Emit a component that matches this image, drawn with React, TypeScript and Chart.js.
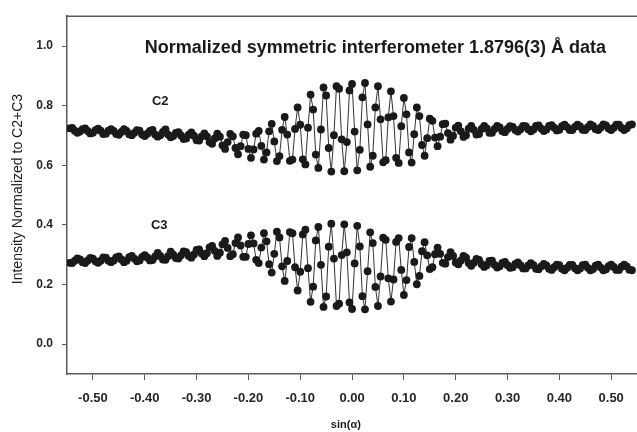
import { useEffect, useRef } from "react";
import { Chart, registerables } from "chart.js";

Chart.register(...registerables);

// Sampling grid along sin(α)
const SIN_START = -0.545;
const SIN_STEP = 0.005;

// Normalized intensity of the C2 detector
const C2 = [
  0.724, 0.725, 0.716, 0.709, 0.713, 0.721, 0.724, 0.715, 0.707, 0.709, 0.718, 0.723,
  0.716, 0.705, 0.706, 0.716, 0.721, 0.715, 0.705, 0.702, 0.712, 0.721, 0.715, 0.704,
  0.701, 0.709, 0.718, 0.716, 0.703, 0.698, 0.706, 0.715, 0.719, 0.703, 0.696, 0.701,
  0.712, 0.720, 0.703, 0.694, 0.698, 0.709, 0.711, 0.700, 0.688, 0.690, 0.703, 0.710,
  0.699, 0.684, 0.683, 0.697, 0.707, 0.697, 0.678, 0.672, 0.690, 0.706, 0.696, 0.667,
  0.655, 0.678, 0.705, 0.697, 0.658, 0.637, 0.664, 0.703, 0.701, 0.655, 0.625, 0.653,
  0.706, 0.715, 0.665, 0.619, 0.643, 0.714, 0.739, 0.680, 0.614, 0.631, 0.719, 0.762,
  0.703, 0.615, 0.619, 0.722, 0.794, 0.736, 0.620, 0.603, 0.726, 0.837, 0.787, 0.636,
  0.591, 0.720, 0.861, 0.834, 0.658, 0.579, 0.701, 0.865, 0.857, 0.687, 0.580, 0.678,
  0.851, 0.873, 0.713, 0.583, 0.652, 0.828, 0.876, 0.737, 0.595, 0.632, 0.794, 0.865,
  0.754, 0.610, 0.617, 0.761, 0.848, 0.765, 0.625, 0.608, 0.731, 0.826, 0.771, 0.643,
  0.609, 0.704, 0.794, 0.765, 0.668, 0.632, 0.691, 0.756, 0.749, 0.693, 0.664, 0.696,
  0.738, 0.740, 0.708, 0.686, 0.699, 0.726, 0.733, 0.714, 0.695, 0.701, 0.723, 0.732,
  0.719, 0.703, 0.705, 0.722, 0.732, 0.724, 0.709, 0.709, 0.722, 0.732, 0.727, 0.714,
  0.711, 0.722, 0.731, 0.729, 0.718, 0.713, 0.721, 0.732, 0.731, 0.721, 0.714, 0.720,
  0.732, 0.734, 0.723, 0.715, 0.720, 0.732, 0.735, 0.726, 0.717, 0.719, 0.731, 0.736,
  0.728, 0.718, 0.718, 0.729, 0.736, 0.730, 0.719, 0.718, 0.728, 0.737, 0.732, 0.721,
  0.718, 0.727, 0.737, 0.734, 0.723, 0.718, 0.726, 0.736, 0.736, 0.725, 0.718, 0.724,
  0.735, 0.737,
];

// Normalized intensity of the C3 detector
const C3 = [
  0.273, 0.272, 0.280, 0.288, 0.284, 0.275, 0.272, 0.281, 0.289, 0.287, 0.278, 0.273,
  0.280, 0.291, 0.290, 0.280, 0.275, 0.281, 0.291, 0.294, 0.284, 0.275, 0.280, 0.292,
  0.296, 0.287, 0.278, 0.281, 0.293, 0.299, 0.291, 0.281, 0.282, 0.294, 0.306, 0.296,
  0.284, 0.283, 0.295, 0.310, 0.300, 0.289, 0.287, 0.298, 0.311, 0.309, 0.296, 0.290,
  0.301, 0.316, 0.318, 0.304, 0.295, 0.305, 0.325, 0.330, 0.313, 0.296, 0.307, 0.335,
  0.346, 0.323, 0.295, 0.302, 0.339, 0.358, 0.331, 0.293, 0.293, 0.336, 0.365, 0.338,
  0.283, 0.272, 0.324, 0.372, 0.345, 0.268, 0.240, 0.303, 0.377, 0.358, 0.261, 0.212,
  0.279, 0.376, 0.372, 0.258, 0.180, 0.243, 0.368, 0.384, 0.255, 0.142, 0.193, 0.348,
  0.393, 0.266, 0.125, 0.160, 0.327, 0.404, 0.287, 0.128, 0.136, 0.299, 0.402, 0.308,
  0.140, 0.118, 0.271, 0.397, 0.328, 0.161, 0.117, 0.245, 0.375, 0.339, 0.192, 0.128,
  0.227, 0.357, 0.350, 0.221, 0.143, 0.217, 0.343, 0.356, 0.249, 0.165, 0.215, 0.326,
  0.356, 0.276, 0.201, 0.229, 0.312, 0.342, 0.298, 0.252, 0.258, 0.302, 0.324, 0.303,
  0.273, 0.270, 0.292, 0.309, 0.296, 0.274, 0.268, 0.281, 0.296, 0.290, 0.272, 0.263,
  0.273, 0.286, 0.283, 0.268, 0.259, 0.265, 0.279, 0.280, 0.266, 0.257, 0.261, 0.273,
  0.276, 0.265, 0.256, 0.258, 0.269, 0.274, 0.265, 0.254, 0.254, 0.264, 0.272, 0.265,
  0.253, 0.251, 0.261, 0.269, 0.264, 0.253, 0.249, 0.258, 0.267, 0.265, 0.253, 0.248,
  0.256, 0.266, 0.266, 0.255, 0.248, 0.254, 0.265, 0.267, 0.256, 0.248, 0.252, 0.263,
  0.267, 0.257, 0.248, 0.251, 0.262, 0.267, 0.259, 0.249, 0.249, 0.260, 0.267, 0.261,
  0.250, 0.248,
];

const X_TICKS = [-0.5, -0.4, -0.3, -0.2, -0.1, 0, 0.1, 0.2, 0.3, 0.4, 0.5];
const Y_TICKS = [0, 0.2, 0.4, 0.6, 0.8, 1.0];

const TITLE = "Normalized symmetric interferometer 1.8796(3) Å data";
const X_TITLE = "sin(α)";
const Y_TITLE = "Intensity Normalized to C2+C3";
const SERIES_LABELS = ["C2", "C3"];

const FONT = "'Liberation Sans', Arial, Helvetica, sans-serif";
const INK = "#1a1a1a";
const AXIS = "#5a5a5a";

const toPoints = (ys: number[]) =>
  ys.map((y, i) => ({ x: +(SIN_START + i * SIN_STEP).toFixed(3), y }));

// Text drawn inside and around the plot frame
const labelsPlugin = {
  id: "frameText",
  afterDraw(chart: any) {
    const { ctx, chartArea, scales } = chart;
    const xs = scales.x;
    const ys = scales.y;
    ctx.save();

    // top frame line
    ctx.strokeStyle = AXIS;
    ctx.lineWidth = 1.5;
    ctx.beginPath();
    ctx.moveTo(chartArea.left, chartArea.top);
    ctx.lineTo(chart.width, chartArea.top);
    ctx.stroke();

    ctx.fillStyle = INK;

    // heading inside the plot
    ctx.font = `bold 18px ${FONT}`;
    ctx.textAlign = "center";
    ctx.textBaseline = "alphabetic";
    ctx.fillText(TITLE, xs.getPixelForValue(0.045), ys.getPixelForValue(0.975));

    // series names
    ctx.font = `bold 13px ${FONT}`;
    ctx.textBaseline = "middle";
    ctx.fillText(SERIES_LABELS[0], xs.getPixelForValue(-0.37), ys.getPixelForValue(0.813));
    ctx.fillText(SERIES_LABELS[1], xs.getPixelForValue(-0.372), ys.getPixelForValue(0.398));

    // x axis title
    ctx.font = `bold 11px ${FONT}`;
    ctx.fillText(X_TITLE, xs.getPixelForValue(-0.012), 425);

    // y axis title
    ctx.font = `14px ${FONT}`;
    ctx.translate(18, (chartArea.top + chartArea.bottom) / 2 - 6);
    ctx.rotate(-Math.PI / 2);
    ctx.fillText(Y_TITLE, 0, 0);

    ctx.restore();
  },
};

export default function App() {
  const canvasRef = useRef<HTMLCanvasElement | null>(null);

  useEffect(() => {
    const canvas = canvasRef.current;
    if (!canvas) return;

    const seriesStyle = {
      borderColor: "#333",
      borderWidth: 1,
      pointRadius: 3.9,
      pointBorderWidth: 0,
      pointBackgroundColor: INK,
      pointHoverRadius: 3.9,
      tension: 0,
      fill: false,
    };

    const chart = new Chart(canvas, {
      type: "line",
      data: {
        datasets: [
          { label: SERIES_LABELS[0], data: toPoints(C2), ...seriesStyle },
          { label: SERIES_LABELS[1], data: toPoints(C3), ...seriesStyle },
        ],
      },
      options: {
        responsive: false,
        animation: false,
        events: [],
        layout: { padding: { top: 13, left: 0, right: 0, bottom: 0 } },
        plugins: {
          legend: { display: false },
          tooltip: { enabled: false },
          title: { display: false },
        },
        scales: {
          x: {
            type: "linear",
            min: -0.55,
            max: 0.55,
            afterBuildTicks: (s: any) => {
              s.ticks = X_TICKS.map((v) => ({ value: v }));
            },
            afterFit: (s: any) => {
              s.height = 58;
            },
            ticks: {
              autoSkip: false,
              maxRotation: 0,
              padding: 11,
              color: "#262626",
              font: { family: FONT, size: 13, weight: "bold" },
              callback: (v: any) => Number(v).toFixed(2),
            },
            grid: {
              display: true,
              drawOnChartArea: false,
              drawTicks: true,
              tickLength: 6,
              color: AXIS,
              lineWidth: 1,
            },
            border: { display: true, color: AXIS, width: 1.5 },
          },
          y: {
            type: "linear",
            min: -0.1,
            max: 1.1,
            afterBuildTicks: (s: any) => {
              s.ticks = Y_TICKS.map((v) => ({ value: v }));
            },
            afterFit: (s: any) => {
              s.width = 67;
            },
            ticks: {
              padding: 9,
              color: "#262626",
              font: { family: FONT, size: 12, weight: "bold" },
              callback: (v: any) => Number(v).toFixed(1),
            },
            grid: {
              display: true,
              drawOnChartArea: false,
              drawTicks: true,
              tickLength: 5,
              color: AXIS,
              lineWidth: 1,
            },
            border: { display: true, color: AXIS, width: 1.5 },
          },
        },
      },
      plugins: [labelsPlugin],
    });

    return () => chart.destroy();
  }, []);

  return (
    <div
      style={{
        position: "fixed",
        left: 0,
        top: 0,
        width: 637,
        height: 432,
        overflow: "hidden",
        background: "#ffffff",
      }}
    >
      <canvas ref={canvasRef} width={641} height={432} style={{ display: "block" }} />
    </div>
  );
}
